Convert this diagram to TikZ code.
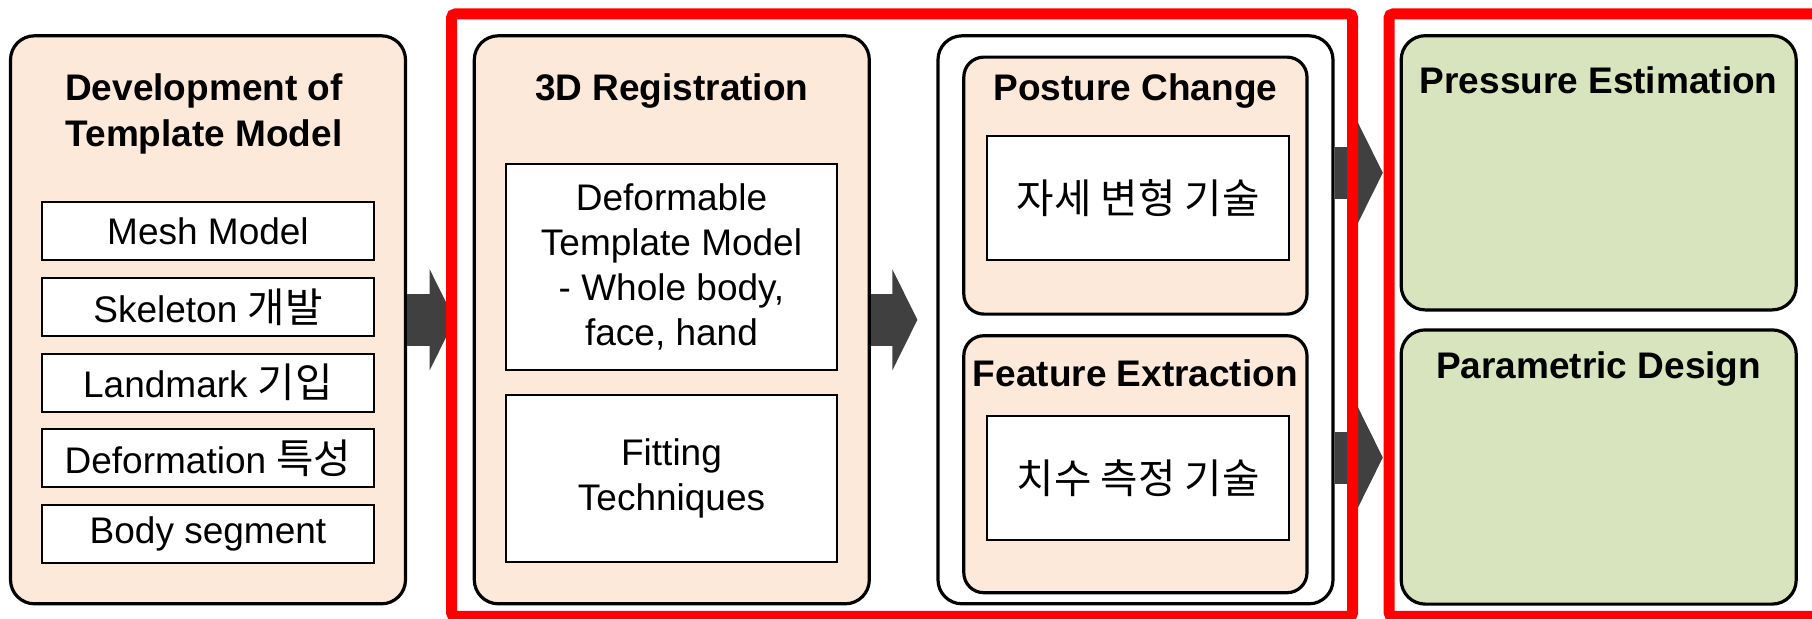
\documentclass[tikz,border=0pt]{standalone}
\usepackage{fontspec}
\setmainfont{Liberation Sans}
\newfontfamily\kr{Noto Sans CJK KR}[Scale=1.1]
\usetikzlibrary{arrows.meta}
\definecolor{peach}{RGB}{253,233,217}
\definecolor{olive}{RGB}{215,228,189}
\definecolor{arrowgray}{RGB}{64,64,64}

\begin{document}
\begin{tikzpicture}[x=1pt, y=-1pt, font=\fontsize{18.5}{22.5}\selectfont,
  panel/.style={draw, line width=1.6pt, rounded corners=12pt, minimum width=197.5pt, minimum height=284pt, inner sep=0pt},
  sub/.style={draw, line width=1.6pt, rounded corners=10pt, fill=peach, minimum width=171.6pt, minimum height=128.5pt, inner sep=0pt},
  item/.style={draw, line width=1pt, fill=white, inner sep=0pt, align=center},
  title/.style={font=\fontsize{18.5}{23}\selectfont\bfseries, align=center, anchor=base, inner sep=0pt},
  frame/.style={draw=red, line width=5.5pt, rounded corners=2pt, inner sep=0pt, minimum height=301.25pt},
  flow/.style={arrowgray, line width=26pt, -{Triangle[length=12.5pt, width=50pt]}}]
  \useasboundingbox (0,0) rectangle (906,309);

  % Panels
  \node[panel, fill=peach] (dev) at (104,159.9) {};
  \node[panel, fill=peach] (reg) at (335.9,159.9) {};
  \node[panel, fill=white] (ana) at (567.75,159.9) {};
  \node[panel, fill=olive, minimum height=137.1pt] (press) at (799.35,86.4) {};
  \node[panel, fill=olive, minimum height=137.1pt] (param) at (799.35,233.5) {};

  % Template model
  \node[title] (devt) at (102,73.35) {Development of\\Template Model};
  \foreach \txt [count=\i from 0] in {Mesh Model, Skeleton {\kr 개발}, Landmark {\kr 기입}, Deformation {\kr 특성}, Body segment}
    \node[item, minimum width=166pt, minimum height=29pt] (dev\i) at (104,115.5+37.9*\i) {\txt};

  % Registration
  \node[title] (regt) at (335.9,50.35) {3D Registration};
  \node[item, minimum width=165.5pt, minimum height=102.85pt] (dtm) at (335.75,133.4) {Deformable\\Template Model\\- Whole body,\\face, hand};
  \node[item, minimum width=165.5pt, minimum height=83.35pt] (fit) at (335.75,239.3) {Fitting\\Techniques};

  % Posture / feature
  \node[sub] (post) at (567.7,92.8) {};
  \node[sub] (feat) at (567.7,232.1) {};
  \node[title] (postt) at (567.7,50.35) {Posture Change};
  \node[title] (featt) at (567.7,193.15) {Feature Extraction};
  \node[item, minimum width=151pt, minimum height=62.15pt] (posti) at (569,98.9) {\kr 자세 변형 기술};
  \node[item, minimum width=151pt, minimum height=62pt] (feati) at (569,239.15) {\kr 치수 측정 기술};

  % Applications
  \node[title] (presst) at (799.35,46.65) {Pressure Estimation};
  \node[title] (paramt) at (799.35,189.35) {Parametric Design};

  % Edges
  \draw[flow, shorten >=9pt] (dev) -- (reg);
  \draw[flow, shorten >=9.5pt] (reg) -- (ana);
  \draw[flow, shorten >=8.4pt] (ana.east |- press.west) -- (press.west);
  \draw[flow, shorten >=8.4pt] ([yshift=4.75pt]ana.east |- param.west) -- ([yshift=4.75pt]param.west);

  % Frames
  \node[frame, minimum width=450.6pt] (stage) at (451.05,157.6) {};
  \node[frame, minimum width=235.5pt] (appl) at (812.25,157.6) {};
\end{tikzpicture}
\end{document}
